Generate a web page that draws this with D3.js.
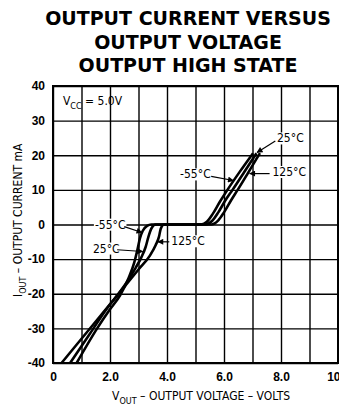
<!DOCTYPE html>
<html lang="en">
<head>
<meta charset="UTF-8">
<title>Output current versus output voltage</title>
<style>
  body { margin: 0; background: #fff; }
  svg { display: block; font-family: "Liberation Sans Narrow", "DejaVu Sans Condensed", sans-serif; }
</style>
<script src="https://cdnjs.cloudflare.com/ajax/libs/d3/7.8.5/d3.min.js"></script>
</head>
<body>
<div id="wrapper"></div>
<script>
// values: [output volts, output mA]
const titleLines = ["OUTPUT CURRENT VERSUS", "OUTPUT VOLTAGE", "OUTPUT HIGH STATE"];
const xGrid = [0, 1, 2, 3, 4, 5, 6, 7, 8, 9, 10];
const xTicks = [0, 2, 4, 6, 8, 10];
const xTickLabels = ["0", "2.0", "4.0", "6.0", "8.0", "10"];
const yTicks = [40, 30, 20, 10, 0, -10, -20, -30, -40];
const yTickLabels = ["40", "30", "20", "10", "0", "-10", "-20", "-30", "-40"];

const curveM55 = [[0.83, -40], [1.55, -30], [2.0, -24.5], [2.35, -20.5], [2.65, -15.5], [2.85, -11],
    [2.97, -7], [3.05, -4], [3.15, -1.8], [3.3, -0.4], [3.45, 0], [5.2, 0], [5.4, 0.8], [5.6, 3],
    [5.85, 6.5], [6.12, 10], [6.55, 15.2], [7.02, 20.6]];
const curve25 = [[0.6, -40], [1.3, -31.5], [1.9, -24.2], [2.25, -20.5], [2.6, -16.5], [2.9, -12.5],
    [3.1, -9.5], [3.25, -6.5], [3.35, -3.5], [3.45, -1.2], [3.6, 0], [5.35, 0], [5.58, 1], [5.8, 3.5],
    [6.05, 7], [6.3, 10], [6.7, 15], [7.14, 20.6]];
const curve125 = [[0.3, -40], [1.0, -33], [1.7, -26], [2.2, -21], [2.6, -17], [3.0, -13], [3.4, -9],
    [3.6, -6], [3.72, -3.5], [3.78, -1.2], [3.9, 0], [5.55, 0], [5.8, 1.2], [6.0, 3.5], [6.25, 7],
    [6.48, 10], [6.85, 15], [7.26, 20.6]];

// temperature labels, text position and leader line in data units
const labels = [
    {text: "25°C", at: [7.86, 23.7], from: [7.8, 24.1], to: [7.16, 20.8]},
    {text: "-55°C", at: [4.46, 13.3], from: [5.55, 13.9], to: [6.33, 12.7]},
    {text: "125°C", at: [7.7, 14.0], from: [7.6, 14.7], to: [6.9, 14.7]},
    {text: "-55°C", at: [1.47, -1.2], from: [2.5, -0.6], to: [3.12, -2.3]},
    {text: "25°C", at: [1.4, -8.1], from: [2.25, -7.3], to: [3.15, -7.8]},
    {text: "125°C", at: [4.15, -6.0], from: [4.08, -5.0], to: [3.68, -5.0]},
];

const dimensions = {
    width: 339,
    height: 410,
    margin: {top: 86, right: 1, bottom: 47, left: 53},
};
dimensions.boundedWidth = dimensions.width - dimensions.margin.left - dimensions.margin.right;
dimensions.boundedHeight = dimensions.height - dimensions.margin.top - dimensions.margin.bottom;

const svg = d3.select("#wrapper").append("svg")
    .attr("width", dimensions.width)
    .attr("height", dimensions.height);

svg.append("defs").append("marker")
    .attr("id", "arrow")
    .attr("viewBox", "0 0 10 10")
    .attr("refX", 9).attr("refY", 5)
    .attr("markerWidth", 7).attr("markerHeight", 6)
    .attr("markerUnits", "userSpaceOnUse")
    .attr("orient", "auto")
    .append("path")
    .attr("d", "M0,0L10,5L0,10z")
    .attr("fill", "#000");

// title
svg.append("g")
    .selectAll("text")
    .data(titleLines)
    .join("text")
    .attr("x", 188)
    .attr("y", (d, i) => 25 + i * 23.5)
    .attr("text-anchor", "middle")
    .style("font-family", "'DejaVu Sans', sans-serif")
    .style("font-weight", "bold")
    .style("font-size", "19px")
    .text(d => d);

const bounds = svg.append("g")
    .attr("transform", `translate(${dimensions.margin.left},${dimensions.margin.top})`);

const xScale = d3.scaleLinear().domain([0, 10]).range([0, dimensions.boundedWidth]);
const yScale = d3.scaleLinear().domain([-40, 40]).range([dimensions.boundedHeight, 0]);

// grid
bounds.append("g")
    .attr("transform", `translate(0,${dimensions.boundedHeight})`)
    .call(d3.axisBottom(xScale).tickValues(xGrid).tickSize(-dimensions.boundedHeight).tickFormat(""))
    .call(g => g.select(".domain").remove())
    .call(g => g.selectAll("line").attr("stroke", "#000").attr("stroke-width", 1.4));

bounds.append("g")
    .call(d3.axisLeft(yScale).tickValues(yTicks).tickSize(-dimensions.boundedWidth).tickFormat(""))
    .call(g => g.select(".domain").remove())
    .call(g => g.selectAll("line").attr("stroke", "#000").attr("stroke-width", 1.4));

bounds.append("rect")
    .attr("width", dimensions.boundedWidth)
    .attr("height", dimensions.boundedHeight)
    .attr("fill", "none")
    .attr("stroke", "#000")
    .attr("stroke-width", 2);

// tick labels
bounds.append("g")
    .attr("transform", `translate(0,${dimensions.boundedHeight})`)
    .call(d3.axisBottom(xScale).tickValues(xTicks).tickSize(0).tickPadding(9)
        .tickFormat((d, i) => xTickLabels[i]))
    .call(g => g.select(".domain").remove())
    .call(g => g.selectAll("text").attr("fill", "#000").style("font-size", "12px").style("font-weight", "bold")
        .style("font-family", "inherit"))
    // last label sits on the right edge of the window
    .call(g => g.selectAll("text").filter(d => d === 10).attr("text-anchor", "end").attr("dx", 2));

bounds.append("g")
    .call(d3.axisLeft(yScale).tickValues(yTicks).tickSize(0).tickPadding(8)
        .tickFormat((d, i) => yTickLabels[i]))
    .call(g => g.select(".domain").remove())
    .call(g => g.selectAll("text").attr("fill", "#000").style("font-size", "12px").style("font-weight", "bold")
        .style("font-family", "inherit"));

// curves
const lineGen = d3.line()
    .x(d => xScale(d[0]))
    .y(d => yScale(d[1]))
    .curve(d3.curveMonotoneX);

bounds.append("g")
    .selectAll("path")
    .data([curveM55, curve25, curve125])
    .join("path")
    .attr("d", lineGen)
    .attr("fill", "none")
    .attr("stroke", "#000")
    .attr("stroke-width", 2.6)
    .attr("stroke-linejoin", "round");

// temperature labels with white backing so the grid is hidden behind them
const labelGroups = bounds.append("g")
    .selectAll("g")
    .data(labels)
    .join("g");

const labelText = labelGroups.append("text")
    .attr("x", d => xScale(d.at[0]))
    .attr("y", d => yScale(d.at[1]))
    .style("font-size", "12px")
    .text(d => d.text);

labelGroups.insert("rect", "text")
    .each(function (d) {
        const box = d3.select(this.parentNode).select("text").node().getBBox();
        d3.select(this)
            .attr("x", box.x - 1).attr("y", box.y + 1)
            .attr("width", box.width + 2).attr("height", box.height - 2)
            .attr("fill", "#fff");
    });

labelGroups.append("line")
    .attr("x1", d => xScale(d.from[0]))
    .attr("y1", d => yScale(d.from[1]))
    .attr("x2", d => xScale(d.to[0]))
    .attr("y2", d => yScale(d.to[1]))
    .attr("stroke", "#000")
    .attr("stroke-width", 1.2)
    .attr("marker-end", "url(#arrow)");

// supply note
const vcc = bounds.append("text")
    .attr("x", xScale(0.35))
    .attr("y", yScale(34.4))
    .style("font-size", "12px");
vcc.append("tspan").text("V");
vcc.append("tspan").attr("dy", 4).style("font-size", "9px").text("CC");
vcc.append("tspan").attr("dy", -4).text(" = 5.0V");

// axis titles
const xTitle = svg.append("text")
    .attr("x", 112)
    .attr("y", 400)
    .style("font-size", "12px");
xTitle.append("tspan").text("V");
xTitle.append("tspan").attr("dy", 4).style("font-size", "9px").text("OUT");
xTitle.append("tspan").attr("dy", -4).text(" – OUTPUT VOLTAGE – VOLTS");

const yTitle = svg.append("text")
    .attr("transform", "translate(22,297) rotate(-90)")
    .style("font-size", "12px");
yTitle.append("tspan").text("I");
yTitle.append("tspan").attr("dy", 4).style("font-size", "9px").text("OUT");
yTitle.append("tspan").attr("dy", -4).text(" – OUTPUT CURRENT  mA");
</script>
</body>
</html>
